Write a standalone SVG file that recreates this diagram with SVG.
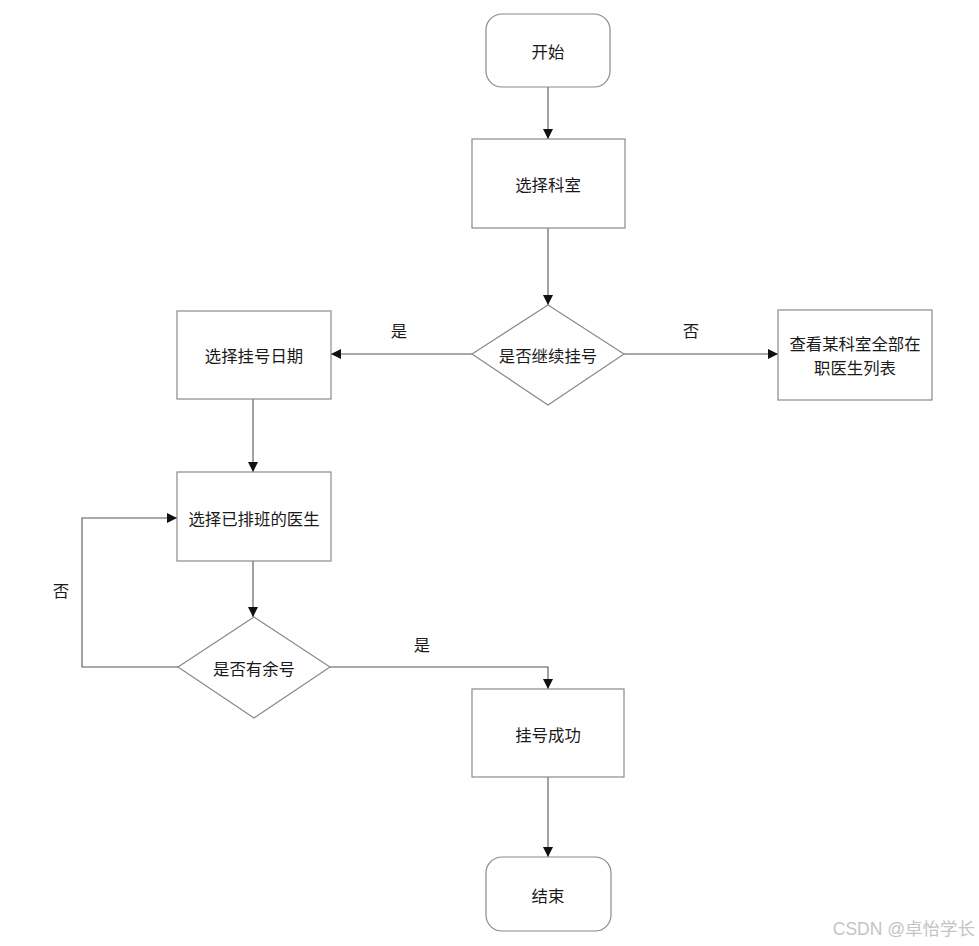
<svg xmlns="http://www.w3.org/2000/svg" width="979" height="946" viewBox="0 0 979 946">
<defs>
<style>
.n{fill:#fff;stroke:#8a8a8a;stroke-width:1.2}
.t{font-family:"Noto Sans CJK SC","Noto Sans",sans-serif;font-size:16.4px;fill:#1a1a1a;text-anchor:middle;dominant-baseline:central}
.c{fill:none;stroke:#555;stroke-width:1.1}
.w{font-family:"Liberation Sans","Noto Sans CJK SC",sans-serif;font-size:17.5px;fill:#c4c4c4;text-anchor:end}
</style>
<marker id="a" viewBox="0 0 10 10" refX="10" refY="5" markerWidth="10" markerHeight="10" markerUnits="userSpaceOnUse" orient="auto">
<path d="M0,0L10,5L0,10z" fill="#111"/>
</marker>
</defs>
<rect width="979" height="946" fill="#fff"/>
<g id="connectors">
<path class="c" d="M548,87V139" marker-end="url(#a)"/>
<path class="c" d="M548,228V305" marker-end="url(#a)"/>
<path class="c" d="M472,354H331" marker-end="url(#a)"/>
<path class="c" d="M624,354H778" marker-end="url(#a)"/>
<path class="c" d="M253,399V472" marker-end="url(#a)"/>
<path class="c" d="M253,561V617" marker-end="url(#a)"/>
<path class="c" d="M178,667H82V518H177" marker-end="url(#a)"/>
<path class="c" d="M330,667H548V689" marker-end="url(#a)"/>
<path class="c" d="M548,777V857" marker-end="url(#a)"/>
<text class="t" x="399" y="330">是</text>
<text class="t" x="691" y="330">否</text>
<text class="t" x="61" y="590">否</text>
<text class="t" x="422" y="644">是</text>
</g>
<g id="start"><rect class="n" x="486" y="14" width="124" height="73" rx="16"/><text class="t" x="548" y="51">开始</text></g>
<g id="selectDept"><rect class="n" x="472" y="139" width="153" height="89"/><text class="t" x="548" y="184">选择科室</text></g>
<g id="continue"><polygon class="n" points="548,305 624,354 548,405 472,354"/><text class="t" x="548" y="355">是否继续挂号</text></g>
<g id="selectDate"><rect class="n" x="177" y="311" width="154" height="88"/><text class="t" x="254" y="355">选择挂号日期</text></g>
<g id="viewList"><rect class="n" x="778" y="310" width="154" height="90"/><text class="t" x="855" y="343">查看某科室全部在</text><text class="t" x="855" y="367">职医生列表</text></g>
<g id="selectDoctor"><rect class="n" x="177" y="472" width="154" height="89"/><text class="t" x="254" y="518">选择已排班的医生</text></g>
<g id="hasSlot"><polygon class="n" points="254,617 330,667 254,718 178,667"/><text class="t" x="254" y="668">是否有余号</text></g>
<g id="success"><rect class="n" x="472" y="689" width="152" height="88"/><text class="t" x="548" y="734">挂号成功</text></g>
<g id="end"><rect class="n" x="486" y="857" width="125" height="74" rx="16"/><text class="t" x="548" y="895">结束</text></g>
<text class="w" x="975" y="935">CSDN @卓怡学长</text>
</svg>
